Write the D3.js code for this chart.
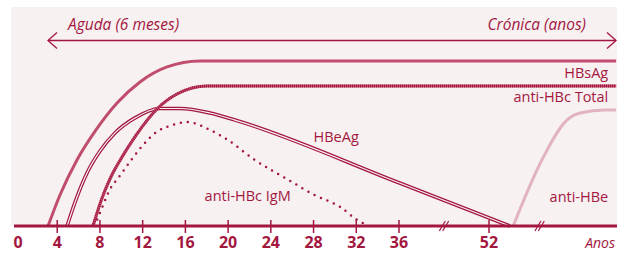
<!DOCTYPE html>
<html><head><meta charset="utf-8">
<script src="https://cdn.jsdelivr.net/npm/d3@7"></script>
<style>body{margin:0;background:#fff}svg{display:block}text{font-family:"Open Sans",sans-serif}</style>
</head><body><svg id="c" width="622" height="253"></svg>
<script>
// axis
const tickValues=[4,8,12,16,20,24,28,32,36,52];
const tickLabels=["0","4","8","12","16","20","24","28","32","36","52"];
const labelValues=[0,4,8,12,16,20,24,28,32,36,52];
const breakValues=[44,61];
// series: [time, level 0-100]
const hbsag=[[3.14,0],[4.26,18.8],[5.85,40],[7.63,58.2],[9.6,74.5],[11.75,87.3],[14.28,96.4],[17.37,100],[74.6,100]];
const hbeag=[[4.92,0],[5.85,17.6],[6.88,33.3],[8.01,45.5],[9.41,56.4],[11.28,65.5],[13.62,71.2],[15.5,71.2],[18.3,68.5],[20.65,64.2],[36,26.2],[55.7,0]];
const antiHbcTotal=[[7.35,0],[8.1,15.2],[8.94,28.5],[10.07,41.8],[11.47,55.8],[13.34,70.9],[15.22,80],[18.02,84.8],[74.6,84.8]];
const antiHbcIgM=[[7.5,0],[8.3,12.7],[8.9,21.8],[9.7,29],[11,40.6],[11.9,48],[13.3,57],[14.8,61.2],[16.2,63],[18.3,58.2],[20,52],[22.5,40],[25.5,28.5],[28.1,18.8],[30.5,11.5],[32.1,3.6],[33,0.6]];
const antiHbe=[[56.3,0],[61.4,40],[65.8,64],[68.2,68.5],[72.6,70.3],[74.6,70.3]];
const seriesLabels=[
 {t:"HBsAg",x:73.2,y:89.5,a:"end"},
 {t:"anti-HBc Total",x:73.2,y:75,a:"end"},
 {t:"HBeAg",x:28,y:51,a:"start"},
 {t:"anti-HBc IgM",x:17.8,y:15,a:"start"},
 {t:"anti-HBe",x:73.2,y:14.5,a:"end"}
];

const C="#a3173f", PINK="#c14d6d", LIGHT="#e2b3c1", BG="#f8f1f2";
const svg=d3.select("#c");
const x=d3.scaleLinear().domain([0,36,52]).range([14.5,399,489]);
const y=d3.scaleLinear().domain([0,100]).range([226,61]);
const line=d3.line().x(d=>x(d[0])).y(d=>y(d[1])).curve(d3.curveMonotoneX);

svg.append("rect").attr("x",11).attr("y",7).attr("width",606).attr("height",219).attr("fill",BG);

// arrows
const ay=40.5;
svg.append("line").attr("x1",48).attr("x2",616).attr("y1",ay).attr("y2",ay).attr("stroke",C).attr("stroke-width",1.3);
svg.append("path").attr("d",`M57,${ay-8}L48,${ay}L57,${ay+8}`).attr("fill","none").attr("stroke",C).attr("stroke-width",1.3);
svg.append("path").attr("d",`M607,${ay-8}L616,${ay}L607,${ay+8}`).attr("fill","none").attr("stroke",C).attr("stroke-width",1.3);
svg.append("text").attr("x",68).attr("y",30).attr("fill",C).attr("font-size",15.5).attr("font-style","italic").text("Aguda (6 meses)");
svg.append("text").attr("x",586).attr("y",30).attr("fill",C).attr("font-size",15.5).attr("font-style","italic").attr("text-anchor","end").text("Crónica (anos)");

// curves
svg.append("path").attr("d",line(antiHbe)).attr("fill","none").attr("stroke",LIGHT).attr("stroke-width",3);
svg.append("path").attr("d",line(hbsag)).attr("fill","none").attr("stroke",PINK).attr("stroke-width",3);
svg.append("path").attr("d",line(hbeag)).attr("fill","none").attr("stroke",C).attr("stroke-width",3.6);
svg.append("path").attr("d",line(hbeag)).attr("fill","none").attr("stroke",BG).attr("stroke-width",1.2);
svg.append("path").attr("d",line(antiHbcTotal)).attr("fill","none").attr("stroke",PINK).attr("stroke-width",3);
svg.append("path").attr("d",line(antiHbcTotal)).attr("fill","none").attr("stroke",C).attr("stroke-width",3).attr("stroke-dasharray","1,1");
svg.append("path").attr("d",line(antiHbcIgM)).attr("fill","none").attr("stroke",C).attr("stroke-width",2.5).attr("stroke-linecap","round").attr("stroke-dasharray","0,7");

// series labels
svg.selectAll("text.sl").data(seriesLabels).join("text").attr("class","sl")
 .attr("x",d=>x(d.x)).attr("y",d=>y(d.y)).attr("text-anchor",d=>d.a)
 .attr("fill",C).attr("font-size",14.5).text(d=>d.t);

// axis
svg.append("line").attr("x1",14).attr("x2",617).attr("y1",226).attr("y2",226).attr("stroke",C).attr("stroke-width",3);
svg.selectAll("line.tk").data(tickValues).join("line").attr("class","tk")
 .attr("x1",d=>x(d)).attr("x2",d=>x(d)).attr("y1",220).attr("y2",233).attr("stroke",C).attr("stroke-width",1.5);
svg.selectAll("text.tl").data(labelValues).join("text").attr("class","tl")
 .attr("x",d=>d===0?x(d)+3.5:x(d)).attr("y",248).attr("text-anchor","middle")
 .attr("fill",C).attr("font-size",16).attr("font-weight","bold").text((d,i)=>tickLabels[i]);
breakValues.forEach(v=>{
  const cx=x(v);
  [-1.7,1.7].forEach(o=>{
    svg.append("line").attr("x1",cx+o-3).attr("y1",231).attr("x2",cx+o+3).attr("y2",221).attr("stroke",C).attr("stroke-width",1.2);
  });
});
svg.append("text").attr("x",615).attr("y",248).attr("text-anchor","end").attr("fill",C).attr("font-size",14).attr("font-style","italic").text("Anos");
</script></body></html>
